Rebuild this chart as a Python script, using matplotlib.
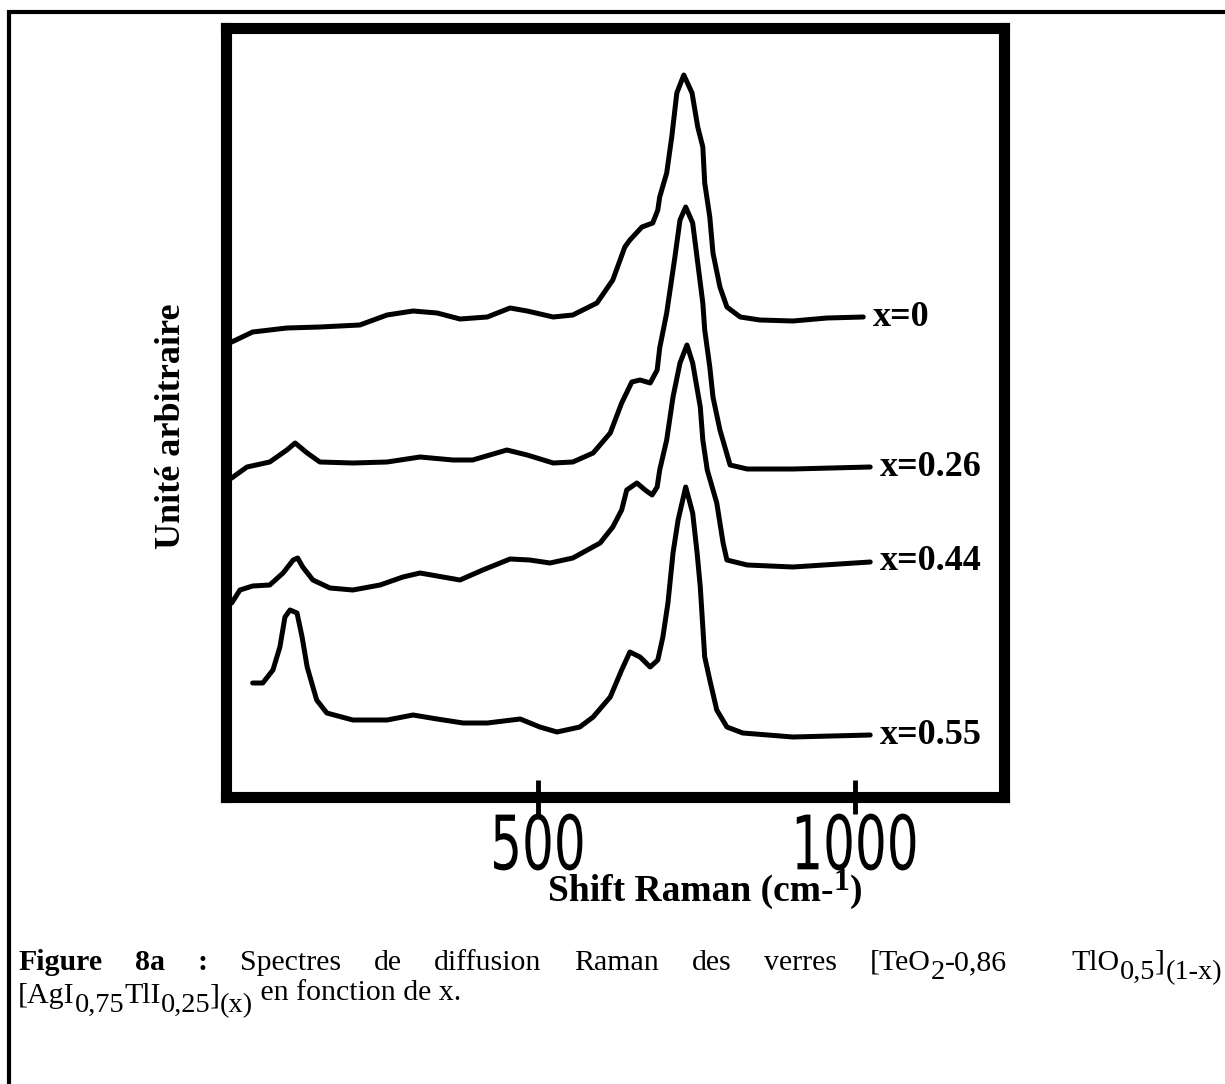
import matplotlib
matplotlib.use("Agg")
import matplotlib.pyplot as plt
from matplotlib.lines import Line2D
from matplotlib.patheffects import AbstractPathEffect
from matplotlib.transforms import Affine2D

plt.rcParams['font.family'] = ['Liberation Serif', 'DejaVu Serif']

# ---------------- data (Raman shift in cm-1, intensity in arbitrary units incl. offset)
shift_x0 = [17, 50, 104, 156, 219, 262, 303, 341, 377, 420, 456, 483, 524, 555, 593, 618,
            637, 645, 664, 681, 689, 692, 703, 711, 719, 730, 743, 752, 760, 763, 771, 776,
            787, 798, 819, 850, 902, 956, 1013]
int_x0 = [455, 465, 469, 470, 472, 482, 486, 484, 478, 480, 489, 486, 480, 482, 494, 517,
          550, 557, 570, 574, 587, 600, 624, 660, 704, 722, 704, 670, 650, 614, 580, 544,
          510, 490, 480, 477, 476, 479, 480]

shift_x026 = [17, 41, 77, 104, 117, 136, 156, 208, 262, 314, 366, 397, 451, 483, 524, 555,
              587, 614, 632, 648, 661, 677, 688, 692, 703, 716, 724, 733, 744, 752, 760, 763,
              771, 776, 787, 803, 830, 902, 1024]
int_x026 = [319, 330, 335, 347, 354, 344, 335, 334, 335, 340, 337, 337, 347, 342, 334, 335,
            344, 364, 394, 415, 417, 414, 427, 449, 484, 540, 577, 590, 574, 534, 494, 467,
            430, 400, 367, 332, 328, 328, 330]

shift_x044 = [17, 30, 50, 77, 98, 114, 121, 129, 145, 172, 208, 251, 287, 314, 341, 377,
              413, 456, 487, 519, 555, 598, 618, 632, 640, 656, 669, 680, 688, 692, 703, 713,
              724, 735, 744, 756, 760, 767, 782, 792, 798, 830, 902, 1024]
int_x044 = [194, 207, 211, 212, 224, 237, 239, 230, 217, 209, 207, 212, 220, 224, 221, 217,
            227, 238, 237, 234, 239, 254, 270, 287, 307, 314, 307, 302, 310, 327, 357, 400,
            434, 452, 434, 390, 357, 327, 294, 254, 237, 232, 230, 235]

shift_x055 = [50, 66, 82, 93, 101, 109, 120, 128, 136, 151, 167, 208, 262, 303, 341, 382,
              420, 472, 503, 530, 566, 587, 614, 632, 645, 661, 677, 689, 697, 705, 713, 721,
              733, 744, 751, 756, 763, 771, 782, 798, 823, 902, 1024]
int_x055 = [114, 114, 127, 150, 180, 187, 184, 160, 130, 97, 84, 77, 77, 82, 78, 74,
            74, 78, 70, 65, 70, 80, 100, 127, 145, 140, 130, 137, 160, 194, 244, 277,
            310, 284, 244, 210, 140, 117, 87, 70, 64, 60, 62]

series_labels = ['x=0', 'x=0.26', 'x=0.44', 'x=0.55']
xtick_values = [500, 1000]
xtick_labels = ['500', '1000']


class Stretch(AbstractPathEffect):
    """Draw text with a different aspect (tall, condensed digits), pivot at glyph top-centre."""
    def __init__(self, sx, sy):
        super().__init__()
        self.sx, self.sy = sx, sy

    def draw_path(self, renderer, gc, tpath, affine, rgbFace=None):
        ext = tpath.get_extents()
        cx, top = (ext.x0 + ext.x1) / 2, ext.y1
        t = (Affine2D().translate(-cx, -top).scale(self.sx, self.sy).translate(cx, top)
             + affine)
        renderer.draw_path(gc, tpath, t, rgbFace)


W, H = 1225, 1084
fig = plt.figure(figsize=(W / 100, H / 100), dpi=100)
renderer = fig.canvas.get_renderer()

# outer page frame (top and left edges)
fig.add_artist(Line2D([9 / W, 9 / W], [0, 1 - 10 / H], transform=fig.transFigure,
                      color='black', lw=3, solid_capstyle='butt'))
fig.add_artist(Line2D([7 / W, 1], [1 - 12 / H, 1 - 12 / H], transform=fig.transFigure,
                      color='black', lw=3, solid_capstyle='butt'))

ax = fig.add_axes([226 / W, 1 - 797 / H, (1004 - 226) / W, (797 - 28) / H])

series = [(shift_x0, int_x0), (shift_x026, int_x026), (shift_x044, int_x044), (shift_x055, int_x055)]
for (xs, ys), lab in zip(series, series_labels):
    ax.plot(xs, ys, color='black', lw=3.6, solid_capstyle='round', solid_joinstyle='round')
    ax.annotate(lab, xy=(xs[-1], ys[-1]), xytext=(7, 0), textcoords='offset points',
                ha='left', va='center', fontsize=26, fontweight='bold')

ax.set_xlim(8, 1235)
ax.set_ylim(0, 769)
for s in ax.spines.values():
    s.set_linewidth(8)
ax.set_yticks([])
ax.set_xticks(xtick_values)
ax.set_xticklabels(xtick_labels, family='DejaVu Sans', fontsize=34)
for tl in ax.get_xticklabels():
    tl.set_path_effects([Stretch(1.06, 1.59)])
ax.tick_params(axis='x', direction='inout', length=24, width=3.5, pad=0)


def make_runs(runs, fs, y_px):
    """runs: (text, weight, scale, dy_em). Returns list of (Text, x_offset, dy_px, y) and width."""
    out, x = [], 0.0
    for txt, wgt, sc, dy in runs:
        t = fig.text(0, 0, txt, fontsize=fs * sc, fontweight=wgt, ha='left', va='baseline')
        w = t.get_window_extent(renderer=renderer).width
        out.append((t, x, dy * fs * 100 / 72, y_px))
        x += w
    return out, x


def place(items, x_px):
    for t, off, dy, y_px in items:
        t.set_position(((x_px + off) / W, 1 - (y_px + dy) / H))


# x-axis title with raised exponent
xl_items, xl_w = make_runs([('Shift Raman (cm-', 'bold', 1.0, 0.0),
                            ('1', 'bold', 0.85, -0.28),
                            (')', 'bold', 1.0, 0.0)], 27, 901)
place(xl_items, 705 - xl_w / 2)

fig.text(171 / W, 1 - 426 / H, 'Unité arbitraire', rotation=90, ha='center', va='center',
         fontsize=26, fontweight='bold')

# caption
cap_fs = 21.5
SUB = (0.95, 0.3)
line1_words = [
    [('Figure', 'bold', 1, 0)], [('8a', 'bold', 1, 0)], [(':', 'bold', 1, 0)],
    [('Spectres', 'normal', 1, 0)], [('de', 'normal', 1, 0)], [('diffusion', 'normal', 1, 0)],
    [('Raman', 'normal', 1, 0)], [('des', 'normal', 1, 0)], [('verres', 'normal', 1, 0)],
    [('[TeO', 'normal', 1, 0), ('2', 'normal') + SUB, ('-0,86', 'normal', 1, 0)],
    [('TlO', 'normal', 1, 0), ('0,5', 'normal') + SUB, (']', 'normal', 1, 0),
     ('(1-x)', 'normal') + SUB],
]
gap_units = [1, 1, 1, 1, 1, 1, 1, 1, 1, 2]
words = [make_runs(w, cap_fs, 970) for w in line1_words]
total_w = sum(w for _, w in words)
gap = ((1222 - 18) - total_w) / sum(gap_units)
x = 18
for i, (items, w) in enumerate(words):
    if i > 0:
        x += gap * gap_units[i - 1]
    place(items, x)
    x += w

line2_items, _ = make_runs([('[AgI', 'normal', 1, 0), ('0,75', 'normal') + SUB,
                            ('TlI', 'normal', 1, 0), ('0,25', 'normal') + SUB,
                            (']', 'normal', 1, 0), ('(x)', 'normal') + SUB,
                            (' en fonction de x.', 'normal', 1, -0.1)], cap_fs, 1003)
place(line2_items, 18)

fig.savefig('out.png', dpi=100)
